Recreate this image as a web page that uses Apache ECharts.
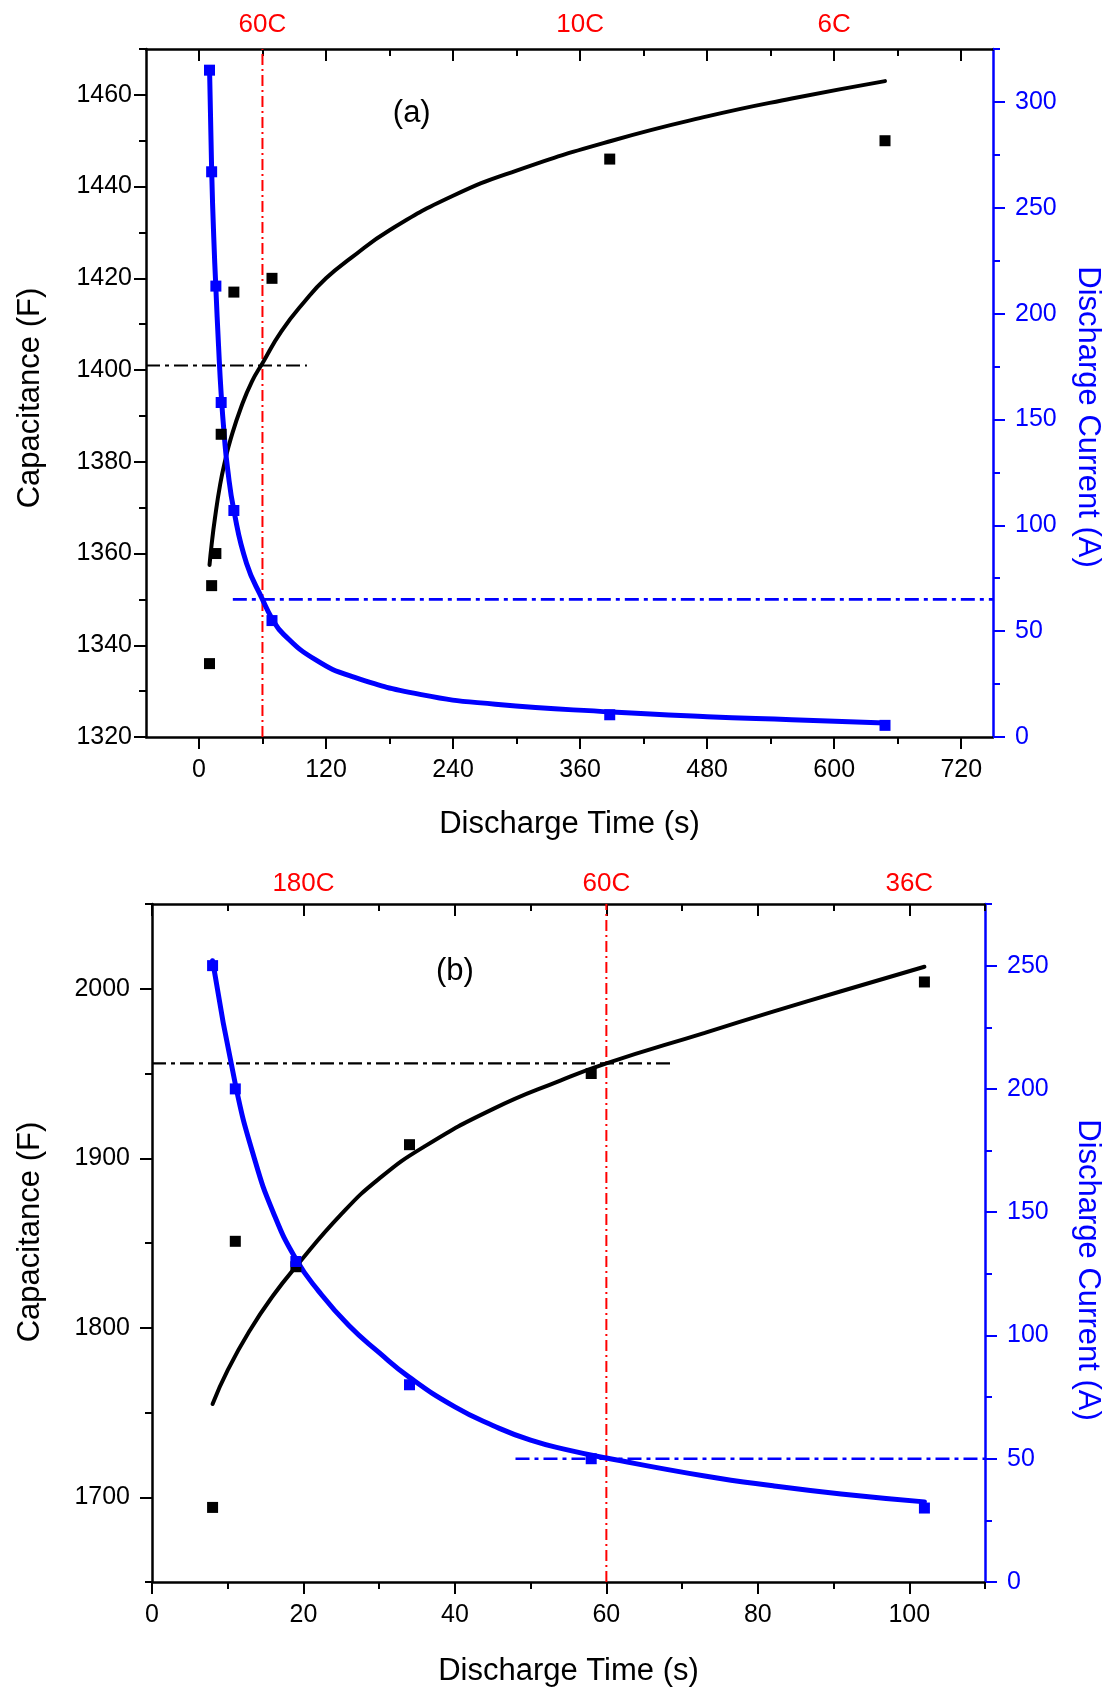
<!DOCTYPE html>
<html>
<head>
<meta charset="utf-8">
<script src="https://cdn.jsdelivr.net/npm/echarts@6/dist/echarts.min.js"></script>
<style>
html, body { margin: 0; padding: 0; background: #ffffff; }
#chart { width: 1104px; height: 1688px; }
</style>
</head>
<body>
<div id="chart"></div>
<script>
// ---------- Panel (a): discharge time 10 s ... 650 s ----------
const timeA = [10, 12, 16, 21, 33, 69, 388, 648];
const capA = [1336, 1353, 1360, 1386, 1417, 1420, 1446, 1450];
const currentA = [315, 267, 213, 158, 107, 55, 10.5, 5.5];

// fitted capacitance curve (a)
const fitCapTimeA = [10, 12, 15, 20, 25, 30, 40, 50, 60, 78, 100, 120, 144, 180, 240, 300, 390, 480, 560, 648];
const fitCapA = [1357.5, 1362, 1367.5, 1375, 1380.5, 1385, 1392, 1397.5, 1401.5, 1408.5, 1415, 1420, 1424.5, 1430.5, 1438, 1443.5, 1450, 1455.3, 1459.2, 1463];

// fitted discharge current curve (a)
const fitCurTimeA = [10, 12, 14, 16, 18.5, 21, 24, 27, 33, 45, 60, 69, 80, 110, 145, 210, 280, 390, 480, 560, 648];
const fitCurA = [316, 268, 236, 212, 185, 162, 142, 127, 107, 82, 65, 56, 48.5, 36.5, 28.5, 20, 15.5, 11.8, 9.6, 8.2, 6.6];

// C-rate marks on the top axis (a)
const rateTimeA = [60, 360, 600];
const rateLabelA = ['60C', '10C', '6C'];

// guide lines (a)
const guideTimeA = 60;
const guideCapA = 1401;
const guideCapSpanA = [-50, 102];
const guideCurA = 65;
const guideCurSpanA = [32, 750];

// axis ranges and ticks (a)
const timeRangeA = [-50, 750];
const timeTicksA = [0, 120, 240, 360, 480, 600, 720];
const timeMinorA = [60, 180, 300, 420, 540, 660];
const capRangeA = [1320, 1470];
const capTicksA = [1320, 1340, 1360, 1380, 1400, 1420, 1440, 1460];
const capMinorA = [1330, 1350, 1370, 1390, 1410, 1430, 1450, 1470];
const curRangeA = [0, 325];
const curTicksA = [0, 50, 100, 150, 200, 250, 300];
const curMinorA = [25, 75, 125, 175, 225, 275, 325];

// ---------- Panel (b): discharge time 8 s ... 102 s ----------
const timeB = [8, 11, 19, 34, 58, 102];
const capB = [1694, 1851, 1836, 1908, 1950, 2004];
const currentB = [250, 200, 130, 80, 50, 30];

const fitCapTimeB = [8, 10, 13, 16, 19, 25, 30, 36, 45, 54, 60, 73, 82, 91, 102];
const fitCapB = [1755, 1775, 1799, 1819, 1836, 1867, 1888, 1907, 1929, 1946, 1956, 1974, 1986.5, 1998.5, 2013];

const fitCurTimeB = [8, 11, 13.5, 16, 19, 22, 26, 30, 34, 40, 45, 50, 55, 60, 73, 82, 91, 102];
const fitCurB = [252, 202, 172, 150, 131, 118, 104, 93, 83, 71, 63.5, 57.5, 53.5, 50.3, 43, 39, 35.7, 32.5];

const rateTimeB = [20, 60, 100];
const rateLabelB = ['180C', '60C', '36C'];

const guideTimeB = 60;
const guideCapB = 1956;
const guideCapSpanB = [0, 69];
const guideCurB = 50;
const guideCurSpanB = [48, 110];

const timeRangeB = [0, 110];
const timeTicksB = [0, 20, 40, 60, 80, 100];
const timeMinorB = [10, 30, 50, 70, 90, 110];
const capRangeB = [1650, 2050];
const capTicksB = [1700, 1800, 1900, 2000];
const capMinorB = [1650, 1750, 1850, 1950, 2050];
const curRangeB = [0, 275];
const curTicksB = [0, 50, 100, 150, 200, 250];
const curMinorB = [25, 75, 125, 175, 225, 275];

// ---------- styling ----------
const FONT = '"Liberation Sans", Arial, Helvetica, sans-serif';
const BLACK = '#000000';
const BLUE = '#0000ff';
const RED = '#ff0000';
const DASH_DOT = [14, 5, 4, 5];
const RED_DASH_DOT = [11, 4, 2, 4];

function pairs(xs, ys) { return xs.map((x, i) => [x, ys[i]]); }
const plain = v => String(v);

function lineAxis(color) {
  return { show: true, onZero: false, lineStyle: { color: color, width: 2.5 } };
}
const noLine = { show: false, onZero: false };
function ticks(values, len, color, inside) {
  return { show: true, customValues: values, length: len, inside: !!inside,
           lineStyle: { color: color, width: 2 } };
}

// four x axes per panel: bottom (major + minor), top (major + minor)
function timeAxes(g, range, major, minor, rateTimes, rateLabels, o) {
  const base = { gridIndex: g, type: 'value', min: range[0], max: range[1],
                 splitLine: { show: false } };
  return [
    Object.assign({}, base, {
      position: 'bottom',
      axisLine: lineAxis(BLACK),
      axisTick: ticks(major, 12, BLACK),
      axisLabel: { show: true, customValues: major, color: BLACK, fontSize: 25,
                   fontFamily: FONT, margin: 21, formatter: plain },
      name: 'Discharge Time (s)', nameLocation: 'middle', nameGap: o.nameGap,
      nameTextStyle: { color: BLACK, fontSize: 31, fontFamily: FONT }
    }),
    Object.assign({}, base, {
      position: 'bottom', axisLine: noLine,
      axisTick: ticks(minor, 7, BLACK), axisLabel: { show: false }
    }),
    Object.assign({}, base, {
      position: 'top',
      axisLine: lineAxis(BLACK),
      axisTick: ticks(major, 12, BLACK, true),
      axisLabel: { show: true, customValues: rateTimes, color: RED, fontSize: 26,
                   fontFamily: FONT, margin: o.rateMargin,
                   formatter: v => { const i = rateTimes.indexOf(v); return i < 0 ? '' : rateLabels[i]; } }
    }),
    Object.assign({}, base, {
      position: 'top', axisLine: noLine,
      axisTick: ticks(minor, 7, BLACK, true), axisLabel: { show: false }
    })
  ];
}

// four y axes per panel: left capacitance (major + minor), right current (major + minor)
function valueAxes(g, capRange, capMajor, capMinor, curRange, curMajor, curMinor, o) {
  const cap = { gridIndex: g, type: 'value', min: capRange[0], max: capRange[1],
                position: 'left', splitLine: { show: false } };
  const cur = { gridIndex: g, type: 'value', min: curRange[0], max: curRange[1],
                position: 'right', splitLine: { show: false } };
  return [
    Object.assign({}, cap, {
      axisLine: lineAxis(BLACK),
      axisTick: ticks(capMajor, 12, BLACK),
      axisLabel: { show: true, customValues: capMajor, color: BLACK, fontSize: 25,
                   fontFamily: FONT, margin: o.capMargin, formatter: plain },
      name: 'Capacitance (F)', nameLocation: 'middle', nameGap: o.capGap, nameRotate: 90,
      nameTextStyle: { color: BLACK, fontSize: 31, fontFamily: FONT, padding: o.capPad }
    }),
    Object.assign({}, cap, {
      axisLine: noLine, axisTick: ticks(capMinor, 7, BLACK), axisLabel: { show: false }
    }),
    Object.assign({}, cur, {
      axisLine: lineAxis(BLUE),
      axisTick: ticks(curMajor, 12, BLUE),
      axisLabel: { show: true, customValues: curMajor, color: BLUE, fontSize: 25,
                   fontFamily: FONT, margin: 22, formatter: plain },
      name: 'Discharge Current (A)', nameLocation: 'middle', nameGap: o.curGap, nameRotate: -90,
      nameTextStyle: { color: BLUE, fontSize: 31, fontFamily: FONT, padding: o.curPad }
    }),
    Object.assign({}, cur, {
      axisLine: noLine, axisTick: ticks(curMinor, 7, BLUE), axisLabel: { show: false }
    })
  ];
}

// series for one panel; xi = bottom x axis index, yc / yi = capacitance / current axis index
function panelSeries(xi, yc, yi, d) {
  const common = { xAxisIndex: xi, animation: false, silent: true };
  return [
    Object.assign({}, common, {
      type: 'line', yAxisIndex: yi, data: [[d.guideTime, d.curRange[0]], [d.guideTime, d.curRange[1]]],
      symbol: 'none', z: 1, lineStyle: { color: RED, width: 2, type: RED_DASH_DOT }
    }),
    Object.assign({}, common, {
      type: 'line', yAxisIndex: yc, data: [[d.capSpan[0], d.guideCap], [d.capSpan[1], d.guideCap]],
      symbol: 'none', z: 1, lineStyle: { color: BLACK, width: 2.2, type: DASH_DOT }
    }),
    Object.assign({}, common, {
      type: 'line', yAxisIndex: yi, data: [[d.curSpan[0], d.guideCur], [d.curSpan[1], d.guideCur]],
      symbol: 'none', z: 1, lineStyle: { color: BLUE, width: 2.6, type: DASH_DOT }
    }),
    Object.assign({}, common, {
      type: 'line', yAxisIndex: yc, data: pairs(d.fitCapT, d.fitCap), symbol: 'none',
      smooth: 0.5, z: 2, lineStyle: { color: BLACK, width: 4, cap: 'round' }
    }),
    Object.assign({}, common, {
      type: 'line', yAxisIndex: yi, data: pairs(d.fitCurT, d.fitCur), symbol: 'none',
      smooth: 0.5, z: 2, lineStyle: { color: BLUE, width: 5, cap: 'round' }
    }),
    Object.assign({}, common, {
      type: 'scatter', yAxisIndex: yc, data: pairs(d.time, d.cap), symbol: 'rect',
      symbolSize: 11, z: 3, itemStyle: { color: BLACK, opacity: 1 }
    }),
    Object.assign({}, common, {
      type: 'scatter', yAxisIndex: yi, data: pairs(d.time, d.cur), symbol: 'rect',
      symbolSize: 11, z: 4, itemStyle: { color: BLUE, opacity: 1 }
    }),
    Object.assign({}, common, {
      type: 'scatter', yAxisIndex: yc, data: [d.tagAt], symbolSize: 0, z: 5,
      itemStyle: { opacity: 1 },
      label: { show: true, position: 'inside', formatter: d.tag, color: BLACK,
               fontSize: 31, fontFamily: FONT }
    })
  ];
}

const panelA = {
  time: timeA, cap: capA, cur: currentA,
  fitCapT: fitCapTimeA, fitCap: fitCapA, fitCurT: fitCurTimeA, fitCur: fitCurA,
  guideTime: guideTimeA, guideCap: guideCapA, capSpan: guideCapSpanA,
  guideCur: guideCurA, curSpan: guideCurSpanA, curRange: curRangeA,
  tag: '(a)', tagAt: [201, 1456]
};
const panelB = {
  time: timeB, cap: capB, cur: currentB,
  fitCapT: fitCapTimeB, fitCap: fitCapB, fitCurT: fitCurTimeB, fitCur: fitCurB,
  guideTime: guideTimeB, guideCap: guideCapB, capSpan: guideCapSpanB,
  guideCur: guideCurB, curSpan: guideCurSpanB, curRange: curRangeB,
  tag: '(b)', tagAt: [40, 2010]
};

const chart = echarts.init(document.getElementById('chart'), null, { renderer: 'canvas' });
chart.setOption({
  backgroundColor: '#ffffff',
  animation: false,
  textStyle: { fontFamily: FONT },
  grid: [
    { left: 146, top: 49, width: 847, height: 688, containLabel: false, outerBoundsMode: 'none' },
    { left: 152, top: 904, width: 833, height: 678, containLabel: false, outerBoundsMode: 'none' }
  ],
  xAxis: [].concat(
    timeAxes(0, timeRangeA, timeTicksA, timeMinorA, rateTimeA, rateLabelA, { nameGap: 72, rateMargin: 11 }),
    timeAxes(1, timeRangeB, timeTicksB, timeMinorB, rateTimeB, rateLabelB, { nameGap: 74, rateMargin: 7 })
  ),
  yAxis: [].concat(
    valueAxes(0, capRangeA, capTicksA, capMinorA, curRangeA, curTicksA, curMinorA,
              { capMargin: 14, capGap: 100, capPad: [0, 10, 0, 0], curGap: 79, curPad: [0, 0, 0, 48] }),
    valueAxes(1, capRangeB, capTicksB, capMinorB, curRangeB, curTicksB, curMinorB,
              { capMargin: 22, capGap: 106, capPad: [0, 0, 0, 22], curGap: 87, curPad: [0, 0, 0, 54] })
  ),
  series: [].concat(
    panelSeries(0, 0, 2, panelA),
    panelSeries(4, 4, 6, panelB)
  )
});
</script>
</body>
</html>
